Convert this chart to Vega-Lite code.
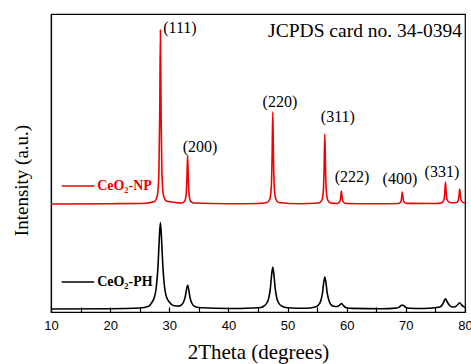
{
  "$schema": "https://vega.github.io/schema/vega-lite/v6.json",
  "autosize": {"type": "none"},
  "width": 414,
  "height": 298,
  "padding": {"left": 51, "top": 14, "right": 6, "bottom": 52},
  "background": "white",
  "config": {
    "view": {"stroke": "black", "strokeWidth": 1.2},
    "font": "Liberation Serif"
  },
  "datasets": {
    "spectra": [
      {"t":10,"i":108,"s":"CeO2-NP"},{"t":20,"i":108.3,"s":"CeO2-NP"},{"t":26,"i":108.8,"s":"CeO2-NP"},{"t":27.5,"i":110.4,"s":"CeO2-NP"},
      {"t":28.0,"i":117.4,"s":"CeO2-NP"},{"t":28.25,"i":140.5,"s":"CeO2-NP"},{"t":28.38,"i":195,"s":"CeO2-NP"},{"t":28.5,"i":282,"s":"CeO2-NP"},
      {"t":28.62,"i":195,"s":"CeO2-NP"},{"t":28.75,"i":140.5,"s":"CeO2-NP"},{"t":29.0,"i":117.4,"s":"CeO2-NP"},{"t":29.5,"i":111,"s":"CeO2-NP"},
      {"t":31,"i":109.5,"s":"CeO2-NP"},{"t":32.1,"i":109,"s":"CeO2-NP"},{"t":32.6,"i":110.8,"s":"CeO2-NP"},{"t":32.85,"i":117.4,"s":"CeO2-NP"},
      {"t":32.98,"i":132.7,"s":"CeO2-NP"},{"t":33.1,"i":157,"s":"CeO2-NP"},{"t":33.22,"i":132.7,"s":"CeO2-NP"},{"t":33.35,"i":117.2,"s":"CeO2-NP"},
      {"t":33.6,"i":110.7,"s":"CeO2-NP"},{"t":34.1,"i":109,"s":"CeO2-NP"},{"t":40,"i":108.2,"s":"CeO2-NP"},{"t":45,"i":108.5,"s":"CeO2-NP"},
      {"t":46.5,"i":109.5,"s":"CeO2-NP"},{"t":47.0,"i":113,"s":"CeO2-NP"},{"t":47.25,"i":125.2,"s":"CeO2-NP"},{"t":47.38,"i":154,"s":"CeO2-NP"},
      {"t":47.5,"i":200,"s":"CeO2-NP"},{"t":47.62,"i":154,"s":"CeO2-NP"},{"t":47.75,"i":125.2,"s":"CeO2-NP"},{"t":48.0,"i":113,"s":"CeO2-NP"},
      {"t":48.5,"i":109.5,"s":"CeO2-NP"},{"t":52,"i":108.3,"s":"CeO2-NP"},{"t":55.3,"i":109,"s":"CeO2-NP"},{"t":55.8,"i":111.8,"s":"CeO2-NP"},
      {"t":56.05,"i":121.1,"s":"CeO2-NP"},{"t":56.18,"i":143,"s":"CeO2-NP"},{"t":56.3,"i":178,"s":"CeO2-NP"},{"t":56.42,"i":143,"s":"CeO2-NP"},
      {"t":56.55,"i":121.1,"s":"CeO2-NP"},{"t":56.8,"i":111.8,"s":"CeO2-NP"},{"t":57.3,"i":109,"s":"CeO2-NP"},{"t":58.4,"i":108.5,"s":"CeO2-NP"},
      {"t":58.85,"i":110.6,"s":"CeO2-NP"},{"t":58.98,"i":114.5,"s":"CeO2-NP"},{"t":59.1,"i":121,"s":"CeO2-NP"},{"t":59.22,"i":114.5,"s":"CeO2-NP"},
      {"t":59.35,"i":110.6,"s":"CeO2-NP"},{"t":59.8,"i":108.5,"s":"CeO2-NP"},{"t":65,"i":108.2,"s":"CeO2-NP"},{"t":68.8,"i":108.5,"s":"CeO2-NP"},
      {"t":69.15,"i":110.4,"s":"CeO2-NP"},{"t":69.28,"i":114,"s":"CeO2-NP"},{"t":69.4,"i":120,"s":"CeO2-NP"},{"t":69.52,"i":114,"s":"CeO2-NP"},
      {"t":69.65,"i":110.4,"s":"CeO2-NP"},{"t":70.1,"i":108.6,"s":"CeO2-NP"},{"t":75,"i":108.5,"s":"CeO2-NP"},{"t":76.0,"i":109,"s":"CeO2-NP"},
      {"t":76.45,"i":112.5,"s":"CeO2-NP"},{"t":76.58,"i":119.5,"s":"CeO2-NP"},{"t":76.7,"i":130,"s":"CeO2-NP"},{"t":76.82,"i":119.5,"s":"CeO2-NP"},
      {"t":76.95,"i":112.6,"s":"CeO2-NP"},{"t":77.4,"i":109.5,"s":"CeO2-NP"},{"t":78.0,"i":109.3,"s":"CeO2-NP"},{"t":78.6,"i":109.5,"s":"CeO2-NP"},
      {"t":78.85,"i":111.5,"s":"CeO2-NP"},{"t":78.98,"i":116,"s":"CeO2-NP"},{"t":79.1,"i":123,"s":"CeO2-NP"},{"t":79.22,"i":116,"s":"CeO2-NP"},
      {"t":79.35,"i":111.5,"s":"CeO2-NP"},{"t":79.7,"i":109.5,"s":"CeO2-NP"},{"t":80,"i":109,"s":"CeO2-NP"},

      {"t":10,"i":3,"s":"CeO2-PH"},{"t":20,"i":3.3,"s":"CeO2-PH"},{"t":25,"i":4,"s":"CeO2-PH"},{"t":26.5,"i":5.8,"s":"CeO2-PH"},
      {"t":27.0,"i":9,"s":"CeO2-PH"},{"t":27.5,"i":15.2,"s":"CeO2-PH"},{"t":27.8,"i":24.5,"s":"CeO2-PH"},{"t":28.1,"i":46.5,"s":"CeO2-PH"},
      {"t":28.3,"i":72,"s":"CeO2-PH"},{"t":28.5,"i":89.5,"s":"CeO2-PH"},{"t":28.7,"i":72.2,"s":"CeO2-PH"},{"t":28.9,"i":47,"s":"CeO2-PH"},
      {"t":29.2,"i":25,"s":"CeO2-PH"},{"t":29.5,"i":15.5,"s":"CeO2-PH"},{"t":30.0,"i":10,"s":"CeO2-PH"},{"t":30.8,"i":6.2,"s":"CeO2-PH"},
      {"t":31.6,"i":5.9,"s":"CeO2-PH"},{"t":32.1,"i":7.3,"s":"CeO2-PH"},{"t":32.4,"i":9.7,"s":"CeO2-PH"},{"t":32.7,"i":15.3,"s":"CeO2-PH"},
      {"t":32.9,"i":22.2,"s":"CeO2-PH"},{"t":33.1,"i":26.7,"s":"CeO2-PH"},{"t":33.3,"i":22,"s":"CeO2-PH"},{"t":33.5,"i":14.5,"s":"CeO2-PH"},
      {"t":33.8,"i":9,"s":"CeO2-PH"},{"t":34.3,"i":5.6,"s":"CeO2-PH"},{"t":35.5,"i":4.2,"s":"CeO2-PH"},{"t":40,"i":3.5,"s":"CeO2-PH"},
      {"t":44,"i":4,"s":"CeO2-PH"},{"t":45.5,"i":4.5,"s":"CeO2-PH"},{"t":46.0,"i":6,"s":"CeO2-PH"},{"t":46.5,"i":9,"s":"CeO2-PH"},
      {"t":46.8,"i":13.5,"s":"CeO2-PH"},{"t":47.1,"i":24.2,"s":"CeO2-PH"},{"t":47.3,"i":36.8,"s":"CeO2-PH"},{"t":47.5,"i":45,"s":"CeO2-PH"},
      {"t":47.7,"i":36.8,"s":"CeO2-PH"},{"t":47.9,"i":24.2,"s":"CeO2-PH"},{"t":48.2,"i":13.5,"s":"CeO2-PH"},{"t":48.5,"i":9,"s":"CeO2-PH"},
      {"t":49.0,"i":6,"s":"CeO2-PH"},{"t":50,"i":4.2,"s":"CeO2-PH"},{"t":53,"i":3.7,"s":"CeO2-PH"},{"t":54.8,"i":5.3,"s":"CeO2-PH"},
      {"t":55.3,"i":7.6,"s":"CeO2-PH"},{"t":55.6,"i":11,"s":"CeO2-PH"},{"t":55.9,"i":19,"s":"CeO2-PH"},{"t":56.1,"i":28.8,"s":"CeO2-PH"},
      {"t":56.3,"i":35,"s":"CeO2-PH"},{"t":56.5,"i":28.8,"s":"CeO2-PH"},{"t":56.7,"i":19.2,"s":"CeO2-PH"},{"t":57.0,"i":11.5,"s":"CeO2-PH"},
      {"t":57.3,"i":7.6,"s":"CeO2-PH"},{"t":57.8,"i":5.8,"s":"CeO2-PH"},{"t":58.4,"i":5.5,"s":"CeO2-PH"},{"t":58.8,"i":6.9,"s":"CeO2-PH"},
      {"t":59.1,"i":8.5,"s":"CeO2-PH"},{"t":59.4,"i":6.6,"s":"CeO2-PH"},{"t":59.9,"i":4.3,"s":"CeO2-PH"},{"t":61,"i":3.6,"s":"CeO2-PH"},
      {"t":66,"i":3.3,"s":"CeO2-PH"},{"t":68.3,"i":3.9,"s":"CeO2-PH"},{"t":68.8,"i":4.6,"s":"CeO2-PH"},{"t":69.1,"i":6,"s":"CeO2-PH"},
      {"t":69.4,"i":7,"s":"CeO2-PH"},{"t":69.7,"i":6,"s":"CeO2-PH"},{"t":70.0,"i":4.6,"s":"CeO2-PH"},{"t":70.6,"i":3.8,"s":"CeO2-PH"},
      {"t":73,"i":3.5,"s":"CeO2-PH"},{"t":75.0,"i":4.3,"s":"CeO2-PH"},{"t":75.7,"i":4.9,"s":"CeO2-PH"},{"t":76.1,"i":6.8,"s":"CeO2-PH"},
      {"t":76.4,"i":10,"s":"CeO2-PH"},{"t":76.7,"i":13.3,"s":"CeO2-PH"},{"t":77.0,"i":10,"s":"CeO2-PH"},{"t":77.3,"i":7.2,"s":"CeO2-PH"},
      {"t":77.7,"i":5.3,"s":"CeO2-PH"},{"t":78.2,"i":5,"s":"CeO2-PH"},{"t":78.5,"i":5.8,"s":"CeO2-PH"},{"t":78.8,"i":7.5,"s":"CeO2-PH"},
      {"t":79.1,"i":9.3,"s":"CeO2-PH"},{"t":79.4,"i":7.3,"s":"CeO2-PH"},{"t":79.7,"i":5.6,"s":"CeO2-PH"},{"t":80,"i":4.6,"s":"CeO2-PH"}
    ],
    "peaks": [
      {"t":31.8,"i":284,"label":"(111)"},
      {"t":35.2,"i":165,"label":"(200)"},
      {"t":48.7,"i":210,"label":"(220)"},
      {"t":58.5,"i":195,"label":"(311)"},
      {"t":60.9,"i":135,"label":"(222)"},
      {"t":69.0,"i":133,"label":"(400)"},
      {"t":76.1,"i":140,"label":"(331)"}
    ],
    "card": [{"t":79.5,"i":281,"label":"JCPDS card no. 34-0394"}],
    "legendLines": [
      {"t":11.8,"t2":17.3,"i":126,"s":"CeO2-NP"},
      {"t":11.8,"t2":17.3,"i":30,"s":"CeO2-PH"}
    ],
    "legendText": [
      {"t":17.8,"i":126,"label":"CeO₂-NP","s":"CeO2-NP"},
      {"t":17.8,"i":30,"label":"CeO₂-PH","s":"CeO2-PH"}
    ]
  },
  "encoding": {
    "x": {
      "field": "t", "type": "quantitative",
      "scale": {"domain": [10, 80], "nice": false, "zero": false},
      "axis": {
        "title": "2Theta (degrees)",
        "titleFont": "Liberation Serif", "titleFontSize": 21, "titleFontWeight": "normal", "titleColor": "black",
        "titlePadding": 9,
        "values": [10,15,20,25,30,35,40,45,50,55,60,65,70,75,80],
        "labelExpr": "datum.value % 10 == 0 ? datum.label : ''",
        "labelFont": "Liberation Sans", "labelFontSize": 13, "labelColor": "black",
        "labelFlush": false, "labelOverlap": false,
        "tickSize": -5, "tickColor": "black", "tickWidth": 1.2,
        "labelPadding": 12,
        "domainColor": "black", "domainWidth": 1.2,
        "grid": false
      }
    },
    "y": {
      "field": "i", "type": "quantitative",
      "scale": {"domain": [0, 298], "nice": false, "zero": false},
      "axis": {
        "title": "Intensity (a.u.)",
        "titleFont": "Liberation Serif", "titleFontSize": 19, "titleFontWeight": "normal", "titleColor": "black",
        "titlePadding": 20,
        "titleY": 166,
        "labels": false, "ticks": false, "grid": false,
        "domainColor": "black", "domainWidth": 1.2
      }
    }
  },
  "layer": [
    {
      "data": {"name": "spectra"},
      "mark": {"type": "line", "strokeWidth": 1.6, "interpolate": "monotone"},
      "encoding": {
        "color": {"field": "s", "type": "nominal", "scale": {"domain": ["CeO2-NP", "CeO2-PH"], "range": ["#f00000", "#000000"]}, "legend": null},
        "order": {"field": "t", "type": "quantitative"}
      }
    },
    {
      "data": {"name": "peaks"},
      "mark": {"type": "text", "font": "Liberation Serif", "fontSize": 16, "color": "black", "align": "center", "baseline": "middle"},
      "encoding": {"text": {"field": "label"}}
    },
    {
      "data": {"name": "card"},
      "mark": {"type": "text", "font": "Liberation Serif", "fontSize": 19.5, "color": "black", "align": "right", "baseline": "middle"},
      "encoding": {"text": {"field": "label"}}
    },
    {
      "data": {"name": "legendLines"},
      "mark": {"type": "rule", "strokeWidth": 1.6},
      "encoding": {
        "x2": {"field": "t2"},
        "color": {"field": "s", "type": "nominal", "legend": null}
      }
    },
    {
      "data": {"name": "legendText"},
      "mark": {"type": "text", "font": "Liberation Serif", "fontSize": 14, "fontWeight": "bold", "align": "left", "baseline": "middle"},
      "encoding": {
        "text": {"field": "label"},
        "color": {"field": "s", "type": "nominal", "legend": null}
      }
    }
  ]
}
